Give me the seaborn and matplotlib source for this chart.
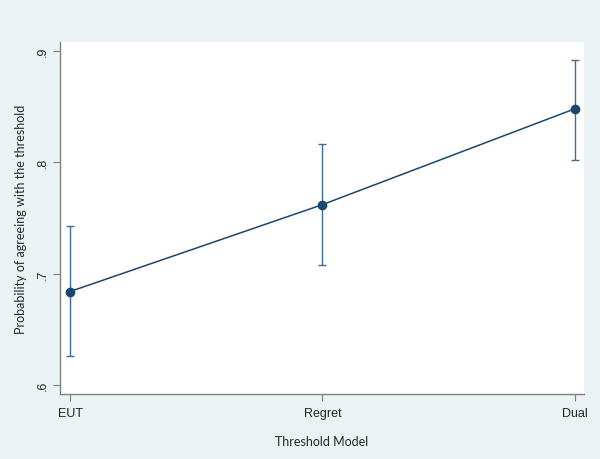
import numpy as np
import pandas as pd
import matplotlib
matplotlib.use("Agg")
import matplotlib.pyplot as plt
import seaborn as sns

# estimates and 95% CI
models = ["EUT", "Regret", "Dual"]
prob = [0.684, 0.762, 0.848]
ci_low = [0.626, 0.708, 0.802]
ci_high = [0.743, 0.816, 0.892]

navy = "#1a476f"
bg = "#eaf2f3"

sns.set_style("white")
plt.rcParams["font.family"] = ["Liberation Sans", "DejaVu Sans"]

df = pd.DataFrame({"pos": np.arange(len(models)), "model": models, "prob": prob})

fig = plt.figure(figsize=(6, 4.6), dpi=100, facecolor=bg)
ax = fig.add_axes([0.1, 0.1413, 0.873, 0.7652])
ax.set_facecolor("white")

yerr = [np.array(prob) - np.array(ci_low), np.array(ci_high) - np.array(prob)]
ax.errorbar(df["pos"], df["prob"], yerr=yerr, fmt="none", ecolor="#3e6d96",
            elinewidth=1.0, capsize=3, capthick=1.0, zorder=2)
sns.lineplot(data=df, x="pos", y="prob", color=navy, linewidth=1.1,
             marker="o", markersize=7, markeredgewidth=0, ax=ax, zorder=3)

ax.set_xlim(-0.04, 2.036)
ax.set_ylim(0.592, 0.908)
ax.set_xticks(df["pos"])
ax.set_xticklabels(models, fontsize=9)
ax.set_yticks([0.6, 0.7, 0.8, 0.9])
ax.set_yticklabels([".6", ".7", ".8", ".9"], fontsize=9, rotation=90, va="center")

for side in ["top", "right"]:
    ax.spines[side].set_visible(False)
for side in ["left", "bottom"]:
    ax.spines[side].set_color("#808080")
    ax.spines[side].set_linewidth(1.0)
ax.tick_params(axis="both", direction="out", length=5, width=0.8,
               color="#808080", labelcolor="#222222", pad=3,
               bottom=True, left=True)
ax.tick_params(axis="x", pad=4)

ax.set_xlabel("Threshold Model", fontsize=9, family=["Lato", "DejaVu Sans"],
              labelpad=12)
ax.set_ylabel("Probability of agreeing with the threshold", fontsize=9,
              family=["Lato", "DejaVu Sans"], labelpad=7)

fig.savefig("out.png", dpi=100, facecolor=bg)
